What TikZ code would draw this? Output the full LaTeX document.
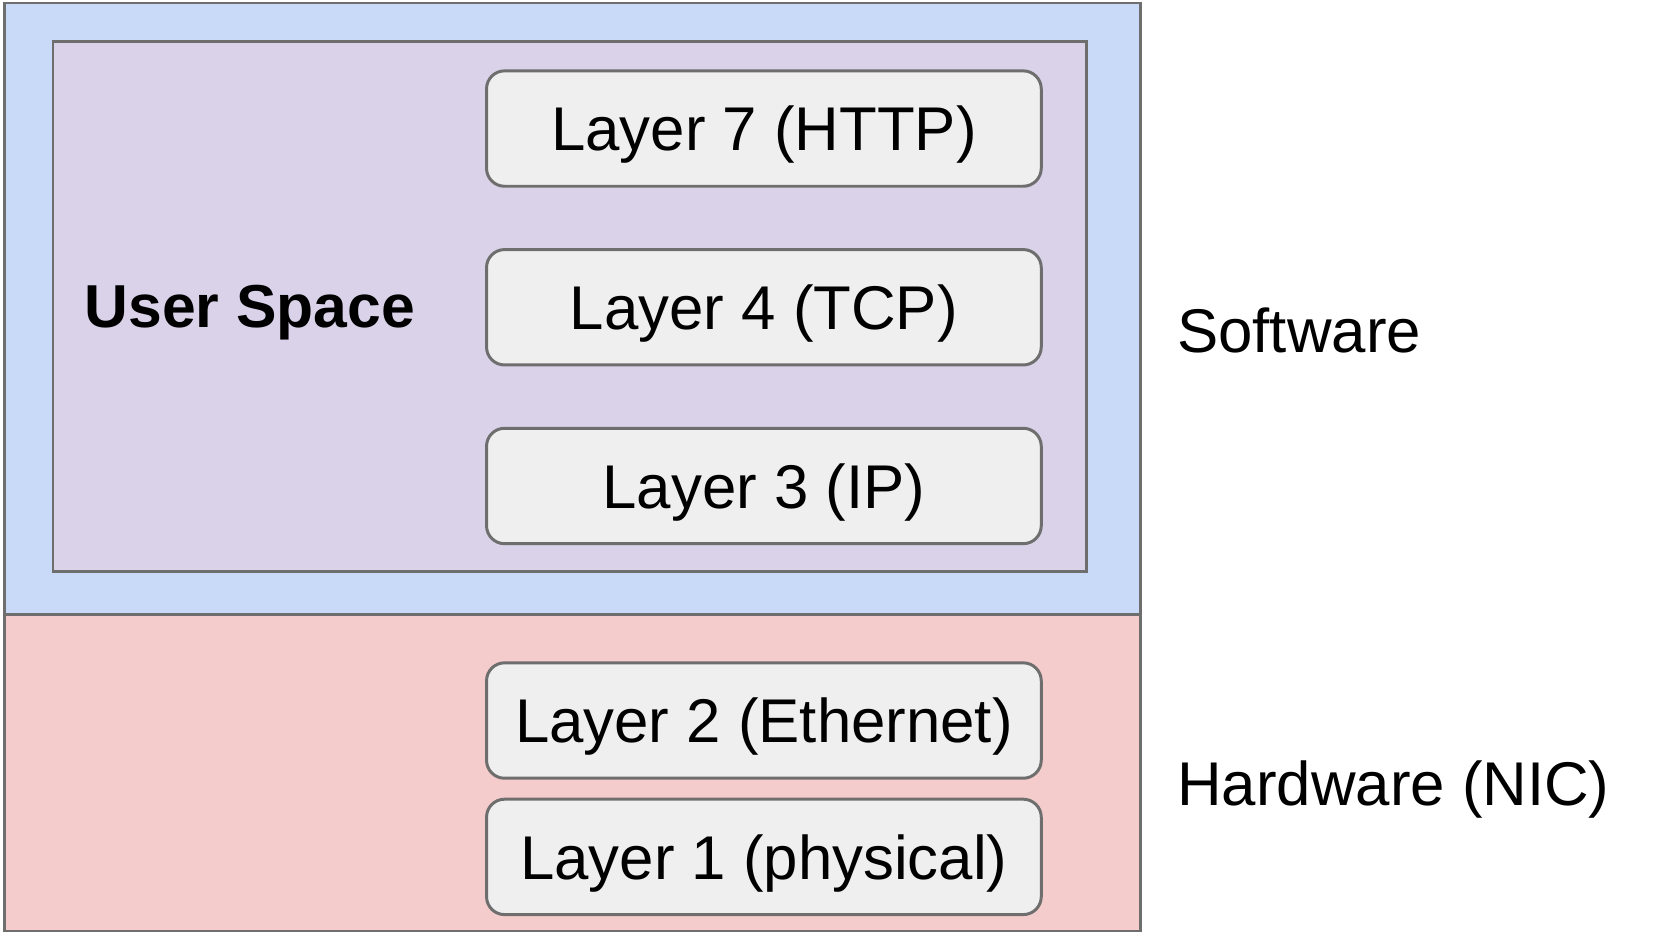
\documentclass[tikz,border=0pt]{standalone}
\usepackage{fontspec}
\setmainfont{Liberation Sans}
\usepackage{tikz}
\usetikzlibrary{positioning}

\definecolor{swblue}{HTML}{C9DAF8}
\definecolor{hwpink}{HTML}{F4CCCC}
\definecolor{uslilac}{HTML}{D9D2E9}
\definecolor{boxgray}{HTML}{EFEFEF}
\definecolor{edgegray}{HTML}{6E6E6E}

\tikzset{
  layerbox/.style={draw=edgegray, fill=boxgray, line width=0.8pt, rounded corners=0.17cm,
    minimum width=5.24cm, minimum height=1.09cm, inner sep=0pt,
    font=\fontsize{16.6}{20}\selectfont, text height=11.9pt, text depth=0pt},
  region/.style={draw=edgegray, line width=0.7pt},
  sidelabel/.style={anchor=west, inner sep=0pt, font=\fontsize{16.6}{20}\selectfont,
    text height=11.9pt, text depth=0pt}
}

\begin{document}
\begin{tikzpicture}[x=0.01cm, y=-0.01cm]
\useasboundingbox (0,0) rectangle (1568,887);

% regions
\draw[region, fill=swblue] (4,3) rectangle (1078,581);
\draw[region, fill=hwpink] (4,581) rectangle (1078,880);
\draw[region, fill=uslilac] (50,39) rectangle (1027,540);

\node[inner sep=0pt, font=\bfseries\fontsize{16.3}{20}\selectfont, text height=11.9pt, text depth=0pt] (user) at (236,289) {User Space};

% software layers
\node[layerbox] (L7) at (722,121.5) {Layer 7 (HTTP)};
\node[layerbox, below=0.57cm of L7] (L4) {Layer 4 (TCP)};
\node[layerbox, below=0.57cm of L4] (L3) {Layer 3 (IP)};

% hardware layers
\node[layerbox] (L2) at (722,681) {Layer 2 (Ethernet)};
\node[layerbox, below=0.17cm of L2] (L1) {Layer 1 (physical)};

\node[sidelabel] (sw) at (1112,312) {Software};
\node[sidelabel] (hw) at (1112,740) {Hardware (NIC)};
\end{tikzpicture}
\end{document}
